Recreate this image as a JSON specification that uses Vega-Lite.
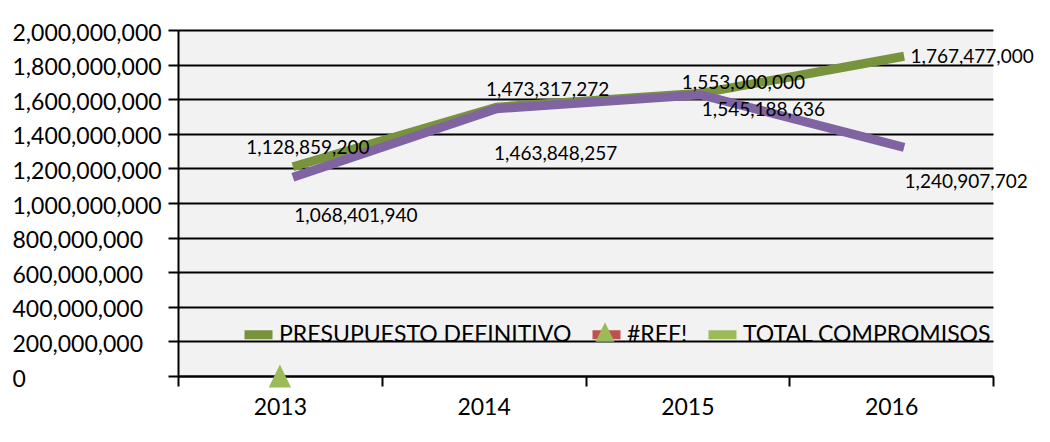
{
  "$schema": "https://vega.github.io/schema/vega-lite/v6.json",
  "width": 815,
  "height": 346,
  "autosize": {"type": "none"},
  "padding": {"left": 178, "top": 30, "right": 57, "bottom": 66},
  "background": "white",
  "config": {"view": {"fill": "#f2f2f2", "stroke": null}, "font": "Lato"},
  "data": {
    "values": [
      {"year": 2013, "series": "PRESUPUESTO DEFINITIVO", "value": 1128859200},
      {"year": 2014, "series": "PRESUPUESTO DEFINITIVO", "value": 1473317272},
      {"year": 2015, "series": "PRESUPUESTO DEFINITIVO", "value": 1553000000},
      {"year": 2016, "series": "PRESUPUESTO DEFINITIVO", "value": 1767477000},
      {"year": 2013, "series": "TOTAL COMPROMISOS", "value": 1068401940},
      {"year": 2014, "series": "TOTAL COMPROMISOS", "value": 1463848257},
      {"year": 2015, "series": "TOTAL COMPROMISOS", "value": 1545188636},
      {"year": 2016, "series": "TOTAL COMPROMISOS", "value": 1240907702},
      {"year": 2013, "series": "#REF!", "value": 0}
    ]
  },
  "encoding": {
    "x": {
      "field": "year",
      "type": "quantitative",
      "scale": {"domain": [2012.5, 2016.5], "nice": false, "zero": false},
      "axis": {
        "title": null,
        "values": [2012.5, 2013, 2013.5, 2014, 2014.5, 2015, 2015.5, 2016, 2016.5],
        "labelExpr": "datum.value % 1 === 0 ? '' + datum.value : ''",
        "labelFont": "Lato",
        "labelFontSize": 23,
        "labelColor": "black",
        "labelPadding": 10,
        "labelOverlap": false,
        "labelFlush": false,
        "tickSize": 10,
        "tickColor": "black",
        "tickWidth": 2,
        "tickOpacity": {"condition": {"test": "datum.value % 1 === 0", "value": 0}, "value": 1},
        "domainColor": "black",
        "domainWidth": 2,
        "grid": false
      }
    },
    "y": {
      "field": "value",
      "type": "quantitative",
      "scale": {"domain": [0, 2000000000], "nice": false},
      "axis": {
        "title": null,
        "values": [0, 200000000, 400000000, 600000000, 800000000, 1000000000, 1200000000, 1400000000, 1600000000, 1800000000, 2000000000],
        "labelExpr": "format(datum.value, ',')",
        "labelFont": "Lato",
        "labelFontSize": 23,
        "labelColor": "black",
        "labelAlign": "left",
        "labelBaseline": "middle",
        "labelPadding": 156,
        "labelOffset": 3,
        "labelOverlap": false,
        "labelFlush": false,
        "tickSize": 10,
        "tickColor": "black",
        "tickWidth": 2,
        "domainColor": "black",
        "domainWidth": 2,
        "grid": true,
        "gridColor": "black",
        "gridWidth": 2
      }
    }
  },
  "layer": [
    {
      "transform": [{"filter": "datum.series === 'PRESUPUESTO DEFINITIVO'"}],
      "mark": {"type": "line", "strokeWidth": 9, "strokeCap": "butt", "xOffset": 13, "yOffset": -14},
      "encoding": {
        "color": {
          "field": "series",
          "type": "nominal",
          "scale": {
            "domain": ["PRESUPUESTO DEFINITIVO", "#REF!", "TOTAL COMPROMISOS"],
            "range": ["#77933c", "#c0504d", "#9bbb59"]
          },
          "legend": {
            "orient": "none",
            "legendX": 62,
            "legendY": 286,
            "direction": "horizontal",
            "title": null,
            "symbolType": "stroke",
            "symbolSize": 784,
            "symbolStrokeWidth": 9,
            "labelFont": "Lato",
            "labelFontSize": 23,
            "labelColor": "black",
            "labelOffset": 2,
            "labelLimit": 0,
            "columnPadding": 2,
            "padding": 0
          }
        }
      }
    },
    {
      "transform": [{"filter": "datum.series === 'TOTAL COMPROMISOS'"}],
      "mark": {"type": "line", "strokeWidth": 9, "strokeCap": "butt", "color": "#8064a2", "xOffset": 13, "yOffset": -14},
      "encoding": {}
    },
    {
      "transform": [{"filter": "datum.series === '#REF!'"}],
      "mark": {"type": "point", "filled": true, "fill": "#9bbb59", "opacity": 1, "size": 530, "strokeWidth": 0},
      "encoding": {
        "shape": {
          "field": "series",
          "type": "nominal",
          "scale": {"domain": ["#REF!"], "range": ["M0,-1L-0.97,1L0.97,1Z"]},
          "legend": {
            "orient": "none",
            "legendX": 417,
            "legendY": 292,
            "title": null,
            "symbolSize": 384,
            "symbolFillColor": "#9bbb59",
            "symbolStrokeWidth": 0,
            "symbolOpacity": 1,
            "labelExpr": "''",
            "labelFontSize": 1,
            "labelOffset": 0,
            "padding": 0
          }
        }
      }
    },
    {
      "transform": [{"filter": "datum.series === 'PRESUPUESTO DEFINITIVO' && datum.year === 2013"}],
      "mark": {"type": "text", "dx": 28, "dy": -33, "fontSize": 19, "font": "Lato", "color": "black", "baseline": "middle"},
      "encoding": {"text": {"field": "value", "type": "quantitative", "format": ","}}
    },
    {
      "transform": [{"filter": "datum.series === 'TOTAL COMPROMISOS' && datum.year === 2013"}],
      "mark": {"type": "text", "dx": 76, "dy": 25, "fontSize": 19, "font": "Lato", "color": "black", "baseline": "middle"},
      "encoding": {"text": {"field": "value", "type": "quantitative", "format": ","}}
    },
    {
      "transform": [{"filter": "datum.series === 'PRESUPUESTO DEFINITIVO' && datum.year === 2014"}],
      "mark": {"type": "text", "dx": 64, "dy": -31, "fontSize": 19, "font": "Lato", "color": "black", "baseline": "middle"},
      "encoding": {"text": {"field": "value", "type": "quantitative", "format": ","}}
    },
    {
      "transform": [{"filter": "datum.series === 'TOTAL COMPROMISOS' && datum.year === 2014"}],
      "mark": {"type": "text", "dx": 72, "dy": 31, "fontSize": 19, "font": "Lato", "color": "black", "baseline": "middle"},
      "encoding": {"text": {"field": "value", "type": "quantitative", "format": ","}}
    },
    {
      "transform": [{"filter": "datum.series === 'PRESUPUESTO DEFINITIVO' && datum.year === 2015"}],
      "mark": {"type": "text", "dx": 56, "dy": -24, "fontSize": 19, "font": "Lato", "color": "black", "baseline": "middle"},
      "encoding": {"text": {"field": "value", "type": "quantitative", "format": ","}}
    },
    {
      "transform": [{"filter": "datum.series === 'TOTAL COMPROMISOS' && datum.year === 2015"}],
      "mark": {"type": "text", "dx": 76, "dy": 1, "fontSize": 19, "font": "Lato", "color": "black", "baseline": "middle"},
      "encoding": {"text": {"field": "value", "type": "quantitative", "format": ","}}
    },
    {
      "transform": [{"filter": "datum.series === 'PRESUPUESTO DEFINITIVO' && datum.year === 2016"}],
      "mark": {"type": "text", "dx": 81, "dy": -13, "fontSize": 19, "font": "Lato", "color": "black", "baseline": "middle"},
      "encoding": {"text": {"field": "value", "type": "quantitative", "format": ","}}
    },
    {
      "transform": [{"filter": "datum.series === 'TOTAL COMPROMISOS' && datum.year === 2016"}],
      "mark": {"type": "text", "dx": 75, "dy": 21, "fontSize": 19, "font": "Lato", "color": "black", "baseline": "middle"},
      "encoding": {"text": {"field": "value", "type": "quantitative", "format": ","}}
    }
  ]
}
